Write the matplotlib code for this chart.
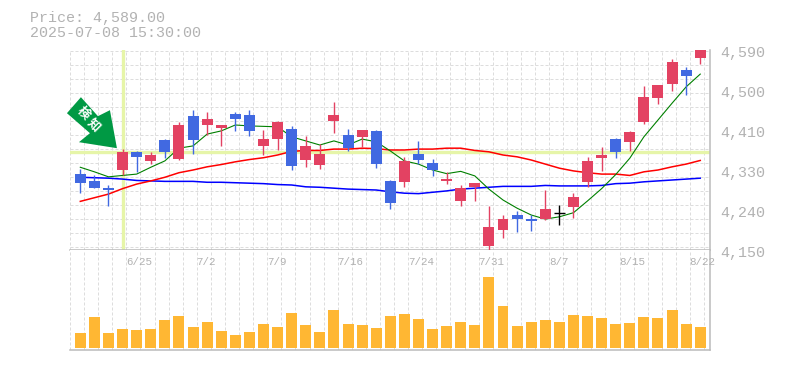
import numpy as np
import matplotlib.pyplot as plt
from matplotlib.patches import Polygon
from matplotlib.transforms import Affine2D

opens = [4317, 4302, 4286, 4326, 4366, 4346, 4392, 4350, 4445, 4425, 4418, 4449, 4447, 4379, 4394,
         4416, 4348, 4337, 4434, 4403, 4399, 4412, 4302, 4300, 4361, 4341, 4302, 4258, 4289, 4159,
         4194, 4227, 4218, 4218, 4231, 4245, 4300, 4352, 4394, 4388, 4432, 4484, 4515, 4546, 4572]
highs = [4328, 4315, 4293, 4372, 4368, 4366, 4394, 4432, 4458, 4454, 4425, 4454, 4458, 4414, 4434,
         4423, 4401, 4383, 4476, 4416, 4414, 4414, 4304, 4355, 4390, 4350, 4322, 4293, 4297, 4247,
         4227, 4236, 4227, 4282, 4249, 4275, 4355, 4377, 4396, 4412, 4511, 4513, 4570, 4553, 4590]
lows = [4275, 4286, 4247, 4315, 4322, 4339, 4352, 4348, 4361, 4403, 4379, 4412, 4401, 4359, 4370,
        4326, 4333, 4328, 4407, 4368, 4377, 4330, 4240, 4289, 4339, 4313, 4295, 4247, 4258, 4148,
        4176, 4190, 4192, 4216, 4205, 4220, 4289, 4324, 4352, 4368, 4427, 4471, 4500, 4491, 4559]
closes = [4297, 4286, 4282, 4366, 4355, 4359, 4366, 4425, 4392, 4438, 4425, 4438, 4412, 4394, 4432,
          4335, 4379, 4361, 4447, 4374, 4414, 4339, 4253, 4346, 4348, 4326, 4306, 4286, 4297, 4201,
          4218, 4218, 4214, 4240, 4231, 4267, 4346, 4359, 4366, 4410, 4487, 4513, 4564, 4533, 4589]

ma_short = [4332, 4322, 4311, 4314, 4317, 4332, 4346, 4374, 4379, 4405, 4412, 4425, 4423, 4422, 4421,
            4399, 4390, 4381, 4390, 4381, 4394, 4388, 4368, 4346, 4339, 4326, 4318, 4323, 4313, 4284,
            4260, 4242, 4227, 4218, 4223, 4232, 4258, 4285, 4316, 4352, 4399, 4436, 4473, 4509, 4537]
ma_mid = [4257, 4265, 4273, 4285, 4295, 4302, 4310, 4320, 4326, 4333, 4338, 4344, 4349, 4353, 4359,
          4367, 4369, 4369, 4372, 4372, 4374, 4373, 4370, 4370, 4372, 4372, 4374, 4374, 4369, 4366,
          4359, 4355, 4348, 4339, 4330, 4324, 4320, 4317, 4317, 4314, 4322, 4326, 4333, 4339, 4347]
ma_long = [4310, 4309, 4308, 4306, 4303, 4302, 4301, 4301, 4301, 4299, 4299, 4298, 4297, 4296, 4294,
           4293, 4289, 4288, 4286, 4284, 4283, 4282, 4278, 4275, 4274, 4277, 4280, 4284, 4286, 4288,
           4290, 4290, 4290, 4292, 4291, 4291, 4291, 4292, 4296, 4297, 4300, 4302, 4304, 4306, 4308]

volumes = [46, 94, 46, 58, 55, 58, 85, 97, 64, 79, 52, 40, 49, 73, 64,
           106, 70, 49, 115, 73, 70, 61, 97, 103, 88, 58, 67, 79, 70, 214,
           127, 67, 79, 85, 79, 100, 97, 91, 73, 76, 94, 91, 115, 73, 64]

date_labels = ['6/25', '7/2', '7/9', '7/16', '7/24', '7/31', '8/7', '8/15', '8/22']
date_index = [3, 8, 13, 18, 23, 28, 33, 38, 43]
price_ticks = [4590, 4502, 4414, 4326, 4238, 4150]
price_labels = ['4,590', '4,500', '4,410', '4,330', '4,240', '4,150']
signal_index = 3
signal_price = 4365
arrow_tip = (2.6, 4374)

RED = '#E34262'
BLUE = '#4169E1'
GREY = '#BBBBBB'
TEXT = '#B2B2B2'
GRID = '#DDDDDD'
MONO = 'Liberation Mono'

W, H = 785, 370
SPACING = 14.09
LEFT_PAD = 10.3 / SPACING
xlim = (-LEFT_PAD, 640 / SPACING - LEFT_PAD)


def draw_grid(ax, horizontal=None):
    dash = (0, (3, 2))
    for k in range(46):
        ax.axvline(k - LEFT_PAD, color=GRID, lw=0.72, ls=dash, zorder=1)
    if horizontal is not None:
        for p in horizontal:
            ax.axhline(p, color=GRID, lw=0.72, ls=dash, zorder=1)


def style_axes(ax):
    ax.set_xlim(xlim)
    ax.set_xticks([])
    ax.set_yticks([])
    for side in ['top', 'left']:
        ax.spines[side].set_visible(False)
    for side in ['right', 'bottom']:
        ax.spines[side].set_color(GREY)
        ax.spines[side].set_linewidth(1.1)


def plot_candles(ax):
    for i in range(len(opens)):
        if closes[i] > opens[i]:
            color = RED
        elif closes[i] < opens[i]:
            color = BLUE
        else:
            color = 'black'
        ax.vlines(i, lows[i], highs[i], color=color, lw=1.0, zorder=5)
        if color == 'black':
            ax.hlines(opens[i], i - 0.39, i + 0.39, color=color, lw=1.0, zorder=5)
        else:
            ax.bar(i, abs(closes[i] - opens[i]), bottom=min(opens[i], closes[i]),
                   width=0.78, color=color, zorder=5)


def plot_arrow(ax):
    # shape in pixels, measured from the tip of the arrow
    shape = [(0, 0), (-7, 38), (-19, 32), (-36, 51), (-50, 35), (-27, 15), (-38, 6)]
    tip = ax.transData.transform(arrow_tip)
    trans = Affine2D().translate(tip[0], tip[1])
    ax.add_patch(Polygon(shape, closed=True, color='#009944', lw=0, transform=trans, zorder=8, clip_on=False))
    for char, offset in zip('検知', [(-34, 35), (-23, 23)]):
        ax.annotate(char, xy=arrow_tip, xytext=offset, textcoords='offset pixels',
                    color='white', fontsize=9, fontweight='bold', rotation=-45,
                    family=['Noto Sans CJK JP', 'DejaVu Sans'],
                    ha='center', va='center', zorder=9)


def main():
    fig = plt.figure(figsize=(W / 100, H / 100), dpi=100)
    ax = fig.add_axes([70 / W, (H - 250) / H, 640 / W, 200 / H])
    vol = fig.add_axes([70 / W, (H - 350) / H, 640 / W, 100 / H])

    ax.set_ylim(4150, 4590)
    vol.set_ylim(-5.1, 294.9)
    style_axes(ax)
    style_axes(vol)

    draw_grid(ax, horizontal=[4156 + 30.8 * k for k in range(15)])
    draw_grid(vol)

    ax.axhline(signal_price, color='#E6F5A8', lw=2.4, zorder=2)
    ax.axvline(signal_index, color='#E6F5A8', lw=2.4, zorder=2)

    x = np.arange(len(opens))
    ax.plot(x, ma_long, color='#0000FF', lw=1.1, zorder=3)
    ax.plot(x, ma_mid, color='#FF0000', lw=1.1, zorder=3)
    ax.plot(x, ma_short, color='#008000', lw=0.8, zorder=3)
    plot_candles(ax)
    plot_arrow(ax)

    vol.bar(x, volumes, width=0.78, color='#FFB733', zorder=3)

    for i, label in zip(date_index, date_labels):
        vol.annotate(label, xy=(i, 1), xycoords=('data', 'axes fraction'), xytext=(3.5, -12),
                     textcoords='offset pixels', color=TEXT, fontsize=7.8, family=MONO,
                     ha='left', va='center', annotation_clip=False)

    for p, label in zip(price_ticks, price_labels):
        ax.annotate(label, xy=(1, p), xycoords=('axes fraction', 'data'), xytext=(10, -3),
                    textcoords='offset pixels', color=TEXT, fontsize=10.8, family=MONO,
                    ha='left', va='center', annotation_clip=False)

    fig.text(30 / W, 1 - 18 / H, 'Price: 4,589.00', color=TEXT, fontsize=10.8, family=MONO, va='center')
    fig.text(30 / W, 1 - 33 / H, '2025-07-08 15:30:00', color=TEXT, fontsize=10.8, family=MONO, va='center')

    fig.savefig('out.png', dpi=100)


if __name__ == '__main__':
    main()
